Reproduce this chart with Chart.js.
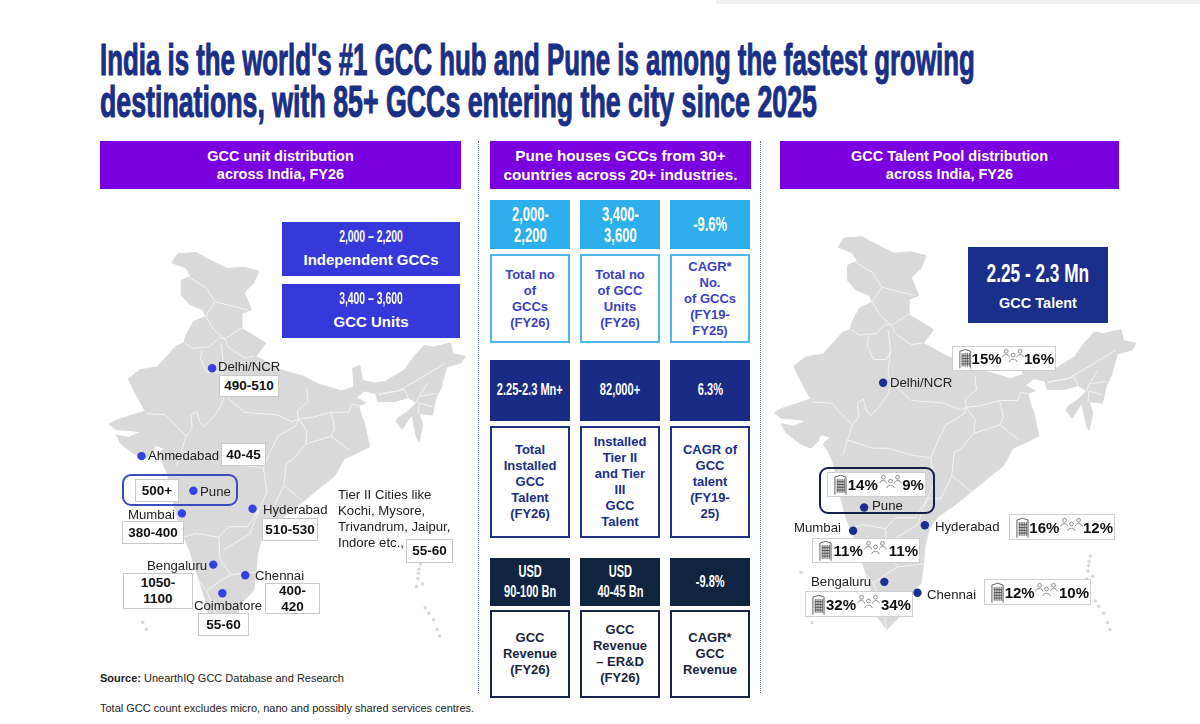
<!DOCTYPE html>
<html lang="en">
<head>
<meta charset="UTF-8">
<title>India GCC hub</title>
<script src="https://cdn.jsdelivr.net/npm/chart.js"></script>
<style>
  html, body { margin: 0; padding: 0; background: #fff; }
  #page { position: relative; width: 1200px; height: 724px; overflow: hidden; font-family: "Liberation Sans", Arial, sans-serif; color: #1c1c1c; }
  #page canvas { position: absolute; }
  .abs { position: absolute; box-sizing: border-box; }
  .title { font: bold 44px/42px "Liberation Sans", sans-serif; color: #1a2f86; white-space: nowrap; transform-origin: 0 50%; -webkit-text-stroke: 1.1px #1a2f86; }
  .head { display: flex; align-items: center; justify-content: center; text-align: center; background: #7b00df; color: #fff; font-weight: bold; font-size: 14.5px; line-height: 18px; }
  .cond { display: inline-block; transform: scaleX(.65); white-space: pre; text-align: center; font-weight: bold; }
  .fill, .desc { display: flex; align-items: center; justify-content: center; text-align: center; white-space: pre-line; }
  .fill { color: #fff; }
  .desc { background: #fff; font-weight: bold; font-size: 13px; line-height: 16px; border: 2px solid; }
  .tag { display: flex; align-items: center; justify-content: center; text-align: center; white-space: pre-line; background: #fff; border: 1.5px solid #c9c9c9; font-weight: bold; font-size: 13.5px; line-height: 16px; color: #111; }
  .city { font-size: 13.2px; line-height: 16px; white-space: nowrap; color: #222; }
  .share { display: flex; align-items: center; justify-content: space-between; background: #fff; border: 1.5px solid #cfcfcf; padding: 0 1px 0 6px; font-weight: bold; font-size: 15px; color: #111; }
  .ring { border: 2px solid; border-radius: 9px; }
  .rule { border-left: 1.5px dotted #5b6db0; }
  .note { font-size: 11px; white-space: nowrap; color: #222; }
</style>
</head>
<body>
<div id="page">
  <canvas id="unitMap"></canvas>
  <canvas id="talentMap"></canvas>
</div>

<svg width="0" height="0" style="position:absolute">
  <symbol id="tower" viewBox="0 0 14 22">
    <path d="M1 22V3l6-2 6 2v19" fill="#fff" stroke="#555" stroke-width="1"/>
    <path d="M3.5 5v15M5.5 5v15M7.5 5v15M9.5 5v15M11.5 5v15M3 8h8.5M3 11h8.5M3 14h8.5M3 17h8.5" stroke="#444" stroke-width=".9" fill="none"/>
  </symbol>
  <symbol id="people" viewBox="0 0 24 16">
    <g fill="none" stroke="#777" stroke-width=".9">
      <circle cx="4.5" cy="3.5" r="2"/><circle cx="19.5" cy="3.5" r="2"/><circle cx="12" cy="7.5" r="2"/>
      <path d="M.5 10c.5-4 7-4 7.5 0M16 10c.5-4 7-4 7.5 0M8 15c.5-4 7.5-4 8 0"/>
    </g>
  </symbol>
</svg>

<script>
  // India outline, lon / lat
  const indiaLon = [73.4,73.9,75.4,76.4,78.0,79.4,80.6,80.2,79.4,80.0,79.2,79.2,81.2,80.4,82.4,84.3,85.6,87.5,88.5,88.4,89.0,89.2,90.2,91.1,92.7,93.5,94.3,95.1,96.5,96.7,97.7,97.4,96.2,95.7,95.3,95.0,93.9,94.2,93.9,93.7,93.3,93.0,92.5,92.0,92.2,92.9,93.7,93.0,91.9,90.5,90.3,89.4,88.7,89.5,88.9,89.1,89.4,89.8,88.7,87.7,86.9,85.5,84.3,82.9,81.6,80.9,80.5,80.4,80.2,79.2,78.7,77.4,76.6,76.2,75.6,74.9,74.1,73.6,73.0,72.6,72.2,72.8,72.0,71.8,71.2,70.4,69.2,68.8,69.8,70.8,70.2,68.8,68.2,68.8,71.2,70.4,69.8,70.8,72.2,73.8,74.4,74.6,75.2,76.2,76.0,74.9,74.2,74.2,75.0,74.6];
  const indiaLat = [36.1,36.8,36.9,36.4,35.7,35.8,35.5,34.6,33.9,32.6,32.3,31.2,30.1,29.1,28.1,27.6,27.0,26.5,26.8,28.2,28.4,27.3,27.1,27.2,28.1,29.1,29.9,29.8,30.1,29.3,29.1,28.6,28.3,26.7,26.0,24.7,24.8,24.0,22.7,23.0,24.7,24.3,23.6,24.2,24.5,24.9,25.6,26.0,25.7,25.7,26.3,26.5,26.0,25.6,25.4,24.7,24.0,22.3,21.8,21.4,20.1,19.1,18.2,17.2,16.4,15.6,14.2,13.0,11.5,10.6,9.3,8.1,9.1,10.8,12.5,14.5,16.2,17.9,20.4,21.2,21.7,22.2,22.4,21.9,21.4,21.7,22.5,23.2,23.0,23.4,23.5,23.6,24.0,24.3,25.0,26.3,27.4,28.1,28.3,29.9,30.1,30.7,31.7,32.1,32.6,33.0,33.7,34.8,35.1,35.7];

  // state borders, null breaks the line
  const borderLon = [74.9,76.2,77.0,78.3,79.7,null,77.0,76.2,76.9,77.8,79.3,null,74.5,75.1,76.5,77.3,77.8,null,75.9,75.8,76.3,77.4,77.7,77.5,null,77.8,78.1,79.4,80.3,null,77.7,77.5,77.8,77.5,77.0,76.1,75.7,75.5,75.0,75.1,74.6,null,71.3,72.9,73.8,74.6,74.2,73.8,null,74.2,76.2,77.5,79.4,81.0,81.5,82.2,83.7,83.9,null,77.8,79.4,82.1,83.4,83.9,null,83.9,83.8,84.7,84.6,null,83.9,85.0,86.6,88.1,88.3,88.9,null,83.9,84.6,84.5,86.6,88.2,null,86.6,86.9,86.6,null,84.5,83.4,82.9,82.7,81.8,null,81.0,81.3,80.7,81.8,null,82.7,84.3,null,80.7,79.7,78.1,77.3,75.4,74.4,null,77.3,77.4,78.3,77.4,76.3,75.5,null,76.3,77.0,77.4,null,78.3,80.4,null,80.7,79.9,77.8,null,90.6,92.2,94.1,96.1,null,90.5,92.7,93.0,null,94.6,93.9,93.7,null,93.9,95.3,null,93.8,93.9,95.0];
  const borderLat = [35.0,34.3,33.2,32.9,32.6,null,33.2,32.1,31.1,30.4,31.3,null,30.1,29.7,29.8,30.5,30.4,null,29.6,28.9,27.9,27.9,28.5,30.1,null,30.4,29.8,29.0,29.1,null,28.5,26.9,26.2,25.4,24.7,23.8,24.2,25.0,24.7,23.7,23.1,null,24.8,24.7,23.8,23.1,22.0,20.9,null,22.0,21.4,21.4,20.9,20.7,21.8,23.1,23.9,24.4,null,26.2,24.9,24.7,24.2,24.4,null,24.4,25.0,25.7,26.7,null,24.4,24.5,24.9,24.9,25.5,25.4,null,24.4,23.5,22.5,23.1,22.0,null,24.9,23.7,23.1,null,22.5,21.3,21.1,19.4,17.7,null,20.7,18.9,17.7,17.7,null,19.4,18.2,null,17.7,16.3,16.3,15.5,15.8,15.5,null,15.5,13.9,12.7,12.2,11.5,12.4,null,11.5,9.9,8.1,null,12.7,12.9,null,17.7,15.8,14.6,null,26.3,26.5,27.5,28.6,null,26.2,26.6,26.0,null,27.1,26.1,25.6,null,26.1,26.3,null,24.8,25.6,25.3];

  const islandLon = [94.0,93.9,93.85,93.7,94.4,94.7,95.1,95.4,95.6,70.4,71.0,71.3,94.2,93.8];
  const islandLat = [13.5,13.1,12.8,11.8,10.2,9.8,9.3,8.6,8.1,12.3,9.1,8.6,12.0,12.4];

  const unitCities = ["Delhi/NCR", "Ahmedabad", "Pune", "Mumbai", "Hyderabad", "Bengaluru", "Chennai", "Coimbatore"];
  const unitCityLon = [76.75, 70.9, 75.2, 74.25, 80.1, 76.85, 79.5, 77.6];
  const unitCityLat = [28.2, 21.6, 19.0, 17.3, 17.65, 13.45, 12.65, 11.3];
  const unitCounts = ["490-510", "40-45", "500+", "380-400", "510-530", "1050-\n1100", "400-\n420", "55-60"];
  const tierTwoLines = ["Tier II Cities like", "Kochi, Mysore,", "Trivandrum, Jaipur,", "Indore etc.,"];
  const tierTwoCount = "55-60";

  const talentCities = ["Delhi/NCR", "Pune", "Mumbai", "Hyderabad", "Bengaluru", "Chennai"];
  const talentCityLon = [77.1, 75.55, 74.65, 80.5, 77.2, 79.9];
  const talentCityLat = [26.2, 17.05, 15.35, 15.75, 11.6, 10.8];
  const unitShare = ["15%", "14%", "11%", "16%", "32%", "12%"];
  const talentShare = ["16%", "9%", "11%", "12%", "34%", "10%"];

  const titleLines = ["India is the world's #1 GCC hub and Pune is among the fastest growing", "destinations, with 85+ GCCs entering the city since 2025"];
  const headers = ["GCC unit distribution\nacross India, FY26", "Pune houses GCCs from 30+\ncountries across 20+ industries.", "GCC Talent Pool distribution\nacross India, FY26"];
  const kpiValues = ["2,000-\n2,200", "3,400-\n3,600", "-9.6%", "2.25-2.3 Mn+", "82,000+", "6.3%", "USD\n90-100 Bn", "USD\n40-45 Bn", "-9.8%"];
  const kpiLabels = ["Total no\nof\nGCCs\n(FY26)", "Total no\nof GCC\nUnits\n(FY26)", "CAGR*\nNo.\nof GCCs\n(FY19-\nFY25)", "Total\nInstalled\nGCC\nTalent\n(FY26)", "Installed\nTier II\nand Tier\nIII\nGCC\nTalent", "CAGR of\nGCC\ntalent\n(FY19-\n25)", "GCC\nRevenue\n(FY26)", "GCC\nRevenue\n– ER&D\n(FY26)", "CAGR*\nGCC\nRevenue"];
  const headlineBoxes = [["2,000 – 2,200", "Independent GCCs"], ["3,400 – 3,600", "GCC Units"], ["2.25 - 2.3 Mn", "GCC Talent"]];

  // layout only from here on
  const page = document.getElementById("page");

  function put(cls, x, y, w, h, text, style) {
    const el = document.createElement("div");
    el.className = "abs " + cls;
    el.style.left = x + "px";
    el.style.top = y + "px";
    if (w) el.style.width = w + "px";
    if (h) el.style.height = h + "px";
    if (text != null) el.textContent = text;
    Object.assign(el.style, style || {});
    page.appendChild(el);
    return el;
  }

  function cond(text, size, lineHeight) {
    return '<span class="cond" style="font-size:' + size + 'px;line-height:' + lineHeight + 'px">' + text + '</span>';
  }

  function toPoints(lon, lat) {
    return lon.map((v, i) => ({ x: v, y: lat[i] }));
  }

  function drawMap(id, box, range, cityLon, cityLat, dotColor) {
    const canvas = document.getElementById(id);
    canvas.style.left = box.x + "px";
    canvas.style.top = box.y + "px";
    canvas.style.width = box.w + "px";
    canvas.style.height = box.h + "px";
    canvas.width = box.w;
    canvas.height = box.h;
    return new Chart(canvas, {
      type: "scatter",
      data: {
        datasets: [
          { data: toPoints(cityLon, cityLat), pointRadius: 4.2, pointBackgroundColor: dotColor, pointBorderWidth: 0, order: 0 },
          { data: toPoints(borderLon, borderLat), showLine: true, borderColor: "#f4f4f4", borderWidth: 1, pointRadius: 0, spanGaps: false, order: 1 },
          { data: toPoints(indiaLon, indiaLat), showLine: true, fill: "shape", backgroundColor: "#d9d9d9", borderColor: "#d9d9d9", borderWidth: 1, pointRadius: 0, order: 2 },
          { data: toPoints(islandLon, islandLat), pointRadius: 1.8, pointBackgroundColor: "#d9d9d9", pointBorderWidth: 0, order: 3 }
        ]
      },
      options: {
        responsive: false,
        animation: false,
        devicePixelRatio: 1,
        layout: { padding: 0 },
        plugins: { legend: { display: false }, tooltip: { enabled: false } },
        scales: {
          x: { type: "linear", display: false, min: range.lonMin, max: range.lonMax },
          y: { type: "linear", display: false, min: range.latMin, max: range.latMax }
        }
      }
    });
  }

  drawMap("unitMap", { x: 90, y: 190, w: 390, h: 470 }, { lonMin: 66.98, lonMax: 98.6, latMin: 6.6, latMax: 41.28 }, unitCityLon, unitCityLat, "#3342dc");
  drawMap("talentMap", { x: 760, y: 190, w: 440, h: 470 }, { lonMin: 67.4, lonMax: 102.6, latMin: 6.18, latMax: 40.02 }, talentCityLon, talentCityLat, "#1a2f8e");

  // page furniture
  put("", 716, 0, 484, 4, null, { background: "#f1f1f1" });
  const titleWidth = [875, 717];
  titleLines.forEach((t, i) => {
    const el = put("title", 100, 39 + i * 42, 0, 42, t);
    el.style.width = "auto";
    el.style.transform = "scaleX(" + titleWidth[i] / el.offsetWidth + ")";
  });
  put("rule", 478, 141, 0, 552);
  put("rule", 760, 141, 0, 552);

  const headX = [100, 490, 780], headW = [361, 261, 339];
  headers.forEach((t, i) => {
    const el = put("head", headX[i], 141, headW[i], 48, null, i === 1 ? { fontSize: "15.3px", lineHeight: "19px" } : {});
    el.innerHTML = t.replace("\n", "<br>");
  });

  // middle column
  const colX = [490, 580, 670];
  const rowTop = [200, 360, 558], rowH = [49, 61, 48];
  const descTop = [254, 426, 610], descH = [89, 112, 88];
  const rowFill = ["#2eaeea", "#1a2b86", "#10243f"];
  const descBorder = ["#4db8e8", "#1f3388", "#1a2450"];
  const descColor = ["#3b3fc4", "#1a2f86", "#1a2540"];
  const rowFont = [20, 17, 17];
  kpiValues.forEach((t, i) => {
    const r = Math.floor(i / 3), c = i % 3;
    put("fill", colX[c], rowTop[r], 80, rowH[r], null, { background: rowFill[r] }).innerHTML = cond(t, rowFont[r], 20.5);
    put("desc", colX[c], descTop[r], 80, descH[r], kpiLabels[i], { borderColor: descBorder[r], color: descColor[r] });
  });

  // left panel
  const headlineBox = [[282, 222, 178, 54], [282, 284, 178, 54], [968, 247, 140, 76]];
  const headlineColor = ["#3539d9", "#3539d9", "#1a2f8a"];
  const headlineBig = [16, 16, 26.5], headlineSmall = [15, 15, 14.5], headlineLead = [22, 22, 36];
  headlineBoxes.forEach((b, i) => {
    const g = headlineBox[i];
    put("fill", g[0], g[1], g[2], g[3], null, { background: headlineColor[i] }).innerHTML =
      '<div>' + cond(b[0], headlineBig[i], headlineLead[i]) + '<br><span style="font-weight:bold;font-size:' + headlineSmall[i] + 'px;line-height:24px">' + b[1] + '</span></div>';
  });
  put("ring", 122, 474, 116, 32, null, { borderColor: "#3a4bc0" });

  const unitNameX = [218, 148, 200, 128, 263, 147, 255, 194];
  const unitNameY = [359, 448, 484, 507, 502, 558, 568, 598];
  unitCities.forEach((t, i) => put("city", unitNameX[i], unitNameY[i], 0, 16, t));

  const unitTagBox = [[219, 375, 60, 22], [221, 443, 45, 23], [135, 479, 44, 23], [122, 521, 62, 23], [262, 518, 56, 23], [123, 573, 70, 36], [265, 583, 55, 31], [198, 613, 51, 23]];
  unitCounts.forEach((t, i) => put("tag", unitTagBox[i][0], unitTagBox[i][1], unitTagBox[i][2], unitTagBox[i][3], t));
  tierTwoLines.forEach((t, i) => put("city", 338, 487 + i * 16, 0, 16, t));
  put("tag", 406, 539, 47, 24, tierTwoCount);

  // right panel
  put("ring", 819, 467, 116, 47, null, { borderColor: "#15204a" });

  const talentNameX = [890, 872, 794, 935, 811, 927];
  const talentNameY = [375, 498, 520, 519, 574, 587];
  talentCities.forEach((t, i) => put("city", talentNameX[i], talentNameY[i], 0, 16, t));

  const shareBox = [[952, 346, 104, 25], [827, 472, 99, 25], [812, 538, 108, 25], [1009, 514, 106, 26], [805, 591, 108, 26], [984, 579, 107, 26]];
  unitShare.forEach((t, i) => {
    const el = put("share", shareBox[i][0], shareBox[i][1], shareBox[i][2], shareBox[i][3]);
    el.innerHTML = '<svg width="13" height="21"><use href="#tower"/></svg><span>' + t + '</span><svg width="23" height="15" style="margin-bottom:6px"><use href="#people"/></svg><span>' + talentShare[i] + '</span>';
  });

  // notes
  put("note", 100, 672, 0, 14, null).innerHTML = "<b>Source:</b> UnearthIQ GCC Database and Research";
  put("note", 100, 702, 0, 14, "Total GCC count excludes micro, nano and possibly shared services centres.");
</script>
</body>
</html>
